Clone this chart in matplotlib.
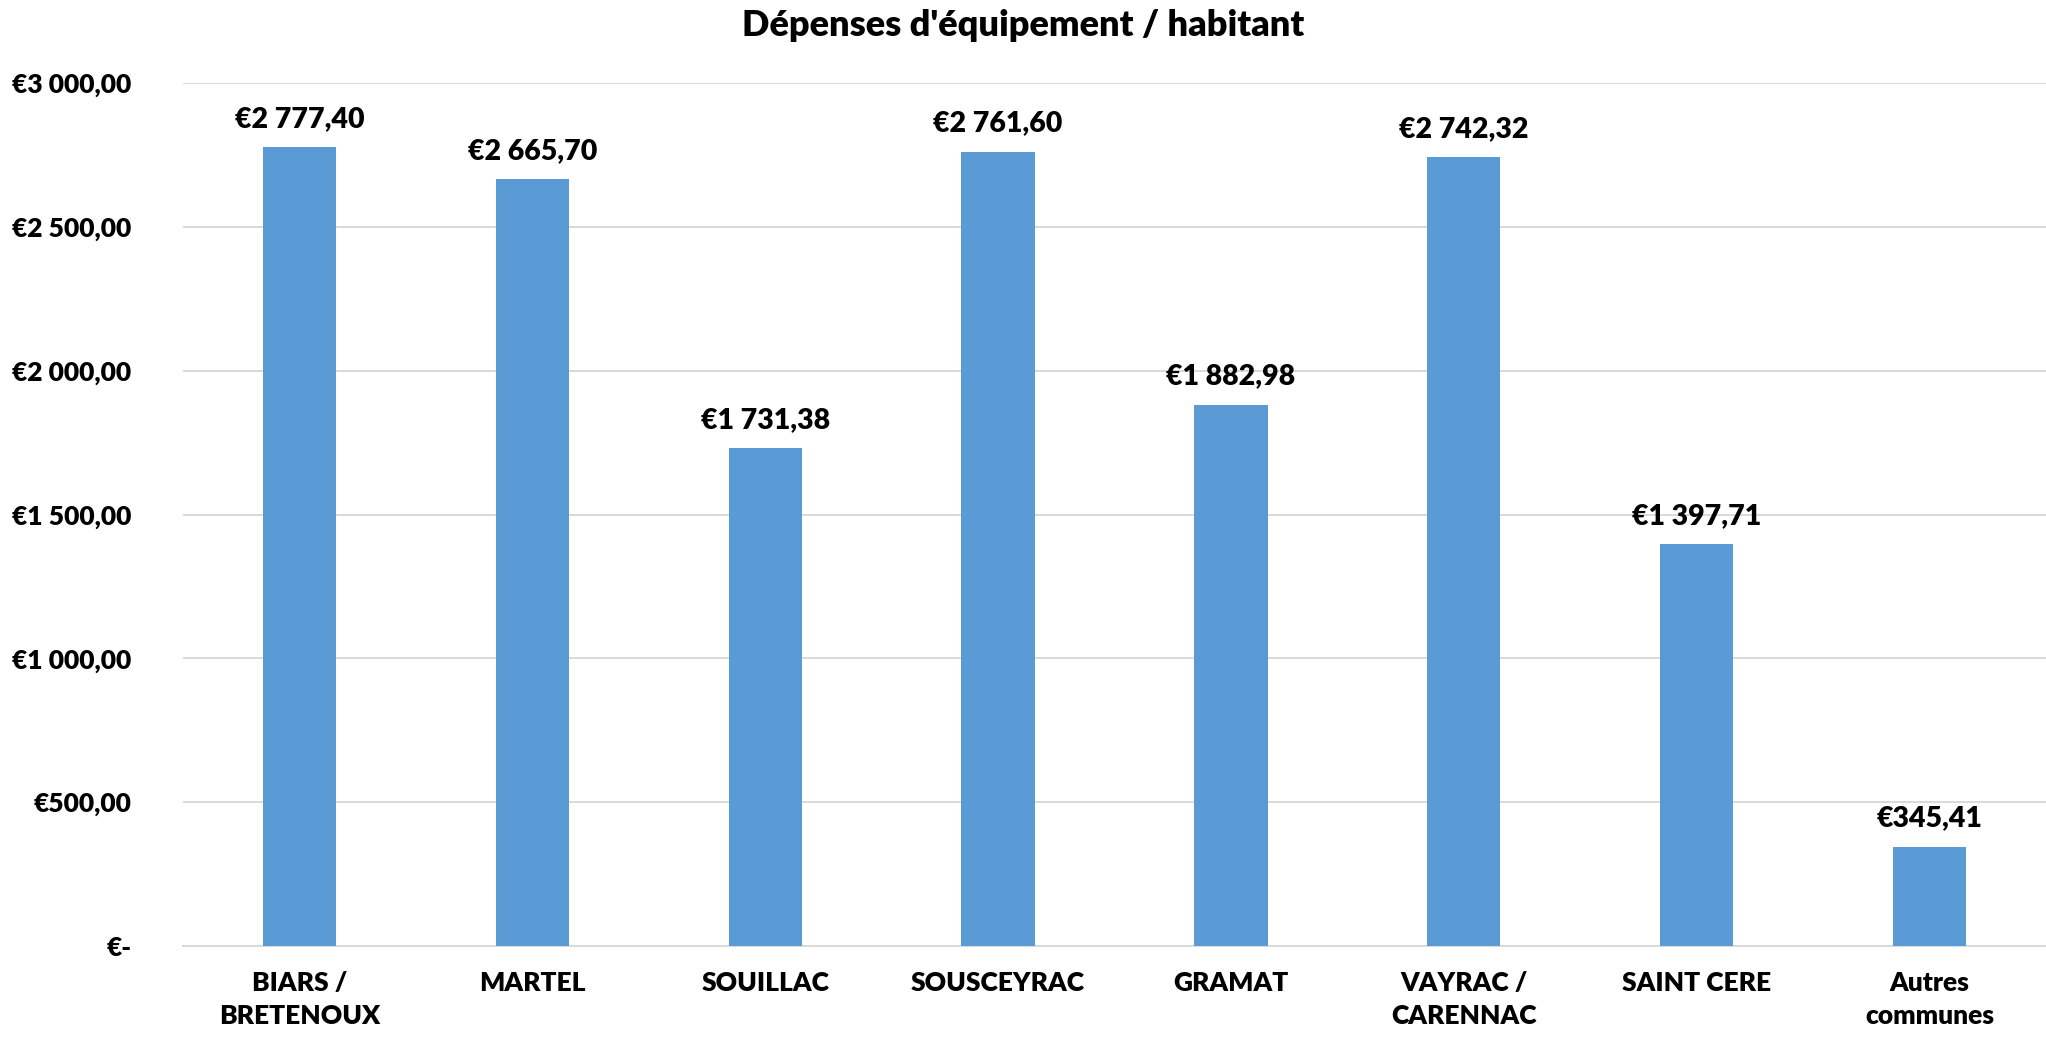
import matplotlib
matplotlib.use("Agg")
import matplotlib.pyplot as plt
from matplotlib.ticker import FuncFormatter, MultipleLocator

# ================== données ==================
communes = ["BIARS /\nBRETENOUX", "MARTEL", "SOUILLAC", "SOUSCEYRAC", "GRAMAT",
            "VAYRAC /\nCARENNAC", "SAINT CERE", "Autres\ncommunes"]
depenses = [2777.40, 2665.70, 1731.38, 2761.60, 1882.98, 2742.32, 1397.71, 345.41]

TITRE = "Dépenses d'équipement / habitant"
BAR_COLOR = "#5B9BD5"
GRID_COLOR = "#D9D9D9"
POIDS = "heavy"

plt.rcParams['font.family'] = ['Lato', 'DejaVu Sans']
plt.rcParams['font.weight'] = POIDS


def euro(v, pos=None):
    if v == 0:
        return "€-"
    s = f"{v:,.2f}"
    s = s.replace(",", " ").replace(".", ",")
    return "€" + s


fig = plt.figure(figsize=(20.46, 10.42), dpi=100)
ax = fig.add_axes([183 / 2046, 1 - 946 / 1042, 1 - 183 / 2046, (946 - 83.3) / 1042])

x = range(len(communes))
bars = ax.bar(x, depenses, width=0.315, color=BAR_COLOR, zorder=3)

ax.set_xlim(-0.5, len(communes) - 0.5)
ax.set_ylim(0, 3000)
ax.yaxis.set_major_locator(MultipleLocator(500))
ax.yaxis.set_major_formatter(FuncFormatter(euro))
ax.grid(axis="y", color=GRID_COLOR, linewidth=1.4, zorder=0)
ax.set_axisbelow(True)

for side in ["top", "right", "left"]:
    ax.spines[side].set_visible(False)
ax.spines["bottom"].set_color(GRID_COLOR)
ax.spines["bottom"].set_linewidth(1.4)

ax.tick_params(axis="both", length=0, labelsize=19)
ax.tick_params(axis="y", pad=37)
ax.tick_params(axis="x", pad=18)
ax.set_xticks(list(x))
ax.set_xticklabels(communes, fontweight=POIDS, linespacing=1.45)
for lbl in ax.get_yticklabels():
    lbl.set_fontweight(POIDS)

# étiquettes de valeurs
for b, v in zip(bars, depenses):
    ax.annotate(euro(v), (b.get_x() + b.get_width() / 2, v), xytext=(0, 11),
                textcoords="offset points", ha="center", va="bottom",
                fontsize=20.5, fontweight=POIDS, annotation_clip=False)

fig.text(0.5, 1 - 26 / 1042, TITRE, ha="center", va="center", fontsize=26, fontweight=POIDS)

fig.savefig("out.png", dpi=100)
